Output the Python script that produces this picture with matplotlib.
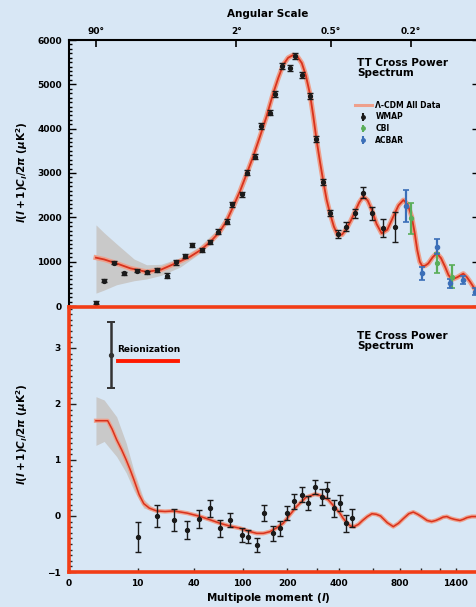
import numpy as np
import matplotlib
matplotlib.use("Agg")
import matplotlib.pyplot as plt
from matplotlib.lines import Line2D

# ---- data ----
# TT model curve (Lambda-CDM), multipole l and l(l+1)Cl/2pi in uK^2
tt_model_ell = [2, 3, 5, 8, 13, 19, 28, 37, 46, 56, 67, 76, 85, 96, 107, 119, 133,
                147, 163, 176, 189, 203, 218, 232, 246, 260, 275, 287, 300, 314, 328,
                342, 357, 375, 393, 415, 439, 462, 485, 510, 535, 562, 589, 622, 658,
                700, 747, 790, 832, 870, 907, 935, 960, 985, 1010, 1040, 1073, 1120,
                1166, 1215, 1263, 1305, 1350, 1420, 1500, 1550, 1596, 1650, 1700]
tt_model = [1090, 1050, 960, 850, 770, 820, 980, 1110, 1260, 1450, 1680, 1930, 2240,
            2600, 2980, 3370, 3830, 4270, 4800, 5150, 5440, 5600, 5660, 5620, 5480,
            5200, 4780, 4300, 3750, 3250, 2800, 2400, 2090, 1790, 1600, 1610, 1750,
            1930, 2130, 2340, 2470, 2380, 2170, 1850, 1640, 1720, 2015, 2270, 2390,
            2290, 2015, 1650, 1263, 1000, 900, 910, 960, 1100, 1190, 1080, 887, 700,
            600, 650, 730, 650, 548, 420, 300]

# cosmic variance band at low l
tt_band_ell = [2, 3, 5, 9, 13, 19, 30, 45, 65, 90, 110]
tt_band_hi = [1830, 1650, 1400, 1060, 930, 940, 1090, 1340, 1750, 2420, 3030]
tt_band_lo = [290, 360, 480, 570, 610, 690, 880, 1180, 1610, 2300, 2930]

# WMAP TT points
wmap_tt_ell = [2, 3, 4.6, 6.6, 9.8, 13, 17, 22, 27, 33, 39, 47, 56, 65, 76, 84, 99,
               108, 123, 136, 154, 167, 185, 209, 224, 246, 275, 297, 328, 357, 393,
               435, 485, 535, 589, 665, 760]
wmap_tt = [75, 571, 977, 738, 796, 760, 812, 684, 985, 1128, 1376, 1263, 1450, 1677,
           1902, 2294, 2520, 3007, 3368, 4061, 4361, 4783, 5414, 5362, 5640, 5211,
           4738, 3760, 2804, 2091, 1624, 1789, 2091, 2556, 2091, 1753, 1789]
wmap_tt_err = [30, 40, 40, 40, 40, 40, 40, 50, 50, 50, 50, 50, 50, 50, 60, 60, 60,
               60, 60, 60, 60, 60, 70, 70, 70, 70, 70, 70, 70, 70, 80, 100, 100, 120,
               140, 200, 340]

# CBI and ACBAR points
cbi_ell = [898, 1166, 1348]
cbi_tt = [1978, 963, 661]
cbi_err = [350, 225, 260]

acbar_ell = [855, 1004, 1174, 1326, 1490, 1668]
acbar_tt = [2256, 737, 1338, 512, 587, 323]
acbar_err = [360, 150, 170, 100, 100, 80]

# TE model curve
te_model_ell = [2, 3.5, 4.2, 5, 6, 7, 8, 9, 10.5, 12, 14, 17, 21, 26, 35, 46, 56, 67,
                80, 96, 110, 126, 140, 155, 172, 189, 208, 229, 260, 294, 320, 349,
                376, 404, 420, 440, 460, 480, 505, 530, 560, 590, 620, 650, 700, 747,
                790, 830, 880, 922, 965, 1010, 1060, 1109, 1155, 1200, 1240, 1285,
                1330, 1380, 1455, 1500, 1550, 1620, 1700]
te_model = [1.70, 1.70, 1.55, 1.36, 1.18, 1.0, 0.82, 0.64, 0.38, 0.22, 0.14, 0.09,
            0.08, 0.09, 0.05, -0.01, -0.07, -0.13, -0.18, -0.22, -0.27, -0.31, -0.31,
            -0.28, -0.21, -0.13, 0.02, 0.17, 0.33, 0.39, 0.36, 0.29, 0.17, 0.05,
            -0.04, -0.12, -0.18, -0.19, -0.15, -0.08, -0.01, 0.04, 0.03, 0.0, -0.12,
            -0.19, -0.13, -0.05, 0.04, 0.07, 0.03, -0.02, -0.08, -0.10, -0.08, -0.05,
            -0.02, -0.01, -0.04, -0.06, -0.08, -0.06, -0.03, -0.01, -0.01]

te_band_ell = [2, 3, 5, 7, 9, 12, 15]
te_band_hi = [2.13, 2.07, 1.77, 1.30, 0.80, 0.30, 0.16]
te_band_lo = [1.26, 1.33, 1.06, 0.77, 0.45, 0.14, 0.10]

# WMAP TE points
wmap_te_ell = [10, 17, 26, 35, 45, 56, 67, 80, 99, 110, 126, 142, 162, 180, 199,
               221, 246, 269, 294, 321, 345, 376, 404, 435, 466]
wmap_te = [-0.38, 0.0, -0.07, -0.25, -0.05, 0.14, -0.22, -0.07, -0.34, -0.37,
           -0.52, 0.05, -0.31, -0.22, 0.05, 0.26, 0.38, 0.23, 0.52, 0.34, 0.46,
           0.14, 0.23, -0.13, -0.04]
wmap_te_err = [0.27, 0.2, 0.2, 0.16, 0.16, 0.15, 0.15, 0.13, 0.12, 0.12, 0.12,
               0.14, 0.13, 0.13, 0.13, 0.13, 0.13, 0.13, 0.13, 0.14, 0.14, 0.15,
               0.15, 0.15, 0.16]

# reionization marker point
reion_ell = [4]
reion_te = [2.87]
reion_err = [0.59]

# axis ticks
x_ticks = [0, 10, 40, 100, 200, 400, 800, 1400]
x_minor = [300, 600, 1000, 1200]
top_ticks = [2, 90, 360, 900]
top_labels = ["90°", "2°", "0.5°", "0.2°"]

# ---- style ----
BG = "#d8e7f5"
RED = "#d9321c"
HALO = "#eea08c"
BOX_RED = "#f23d16"
GREEN = "#5aae5a"
BLUE = "#3b6fb8"
BAND = "#c9c9c9"

plt.rcParams["font.family"] = ["DejaVu Sans"]
plt.rcParams["font.weight"] = "bold"

P = 0.22


def fwd(l):
    return np.power(np.maximum(np.asarray(l, float) + 1.0, 1e-6), P)


def inv(u):
    return np.power(np.maximum(np.asarray(u, float), 1e-6), 1.0 / P) - 1.0


W, H = 477, 607
fig = plt.figure(figsize=(W / 100, H / 100), dpi=100, facecolor=BG)

left = 69 / W
width = (479.4 - 69) / W
ax1 = fig.add_axes([left, 1 - 306 / H, width, (306 - 40) / H])
ax2 = fig.add_axes([left, 1 - 572 / H, width, (572 - 307) / H])

for ax in (ax1, ax2):
    ax.set_facecolor("none")
    ax.set_xscale("function", functions=(fwd, inv))
    ax.set_xlim(0, 1736)

# ---- TT panel ----
ax1.fill_between(tt_band_ell, tt_band_lo, tt_band_hi, color=BAND, lw=0, zorder=1)
ax1.plot(tt_model_ell, tt_model, color=HALO, lw=3.6, zorder=2, solid_joinstyle="round")
ax1.plot(tt_model_ell, tt_model, color=RED, lw=1.3, zorder=3, solid_joinstyle="round")
ax1.errorbar(wmap_tt_ell, wmap_tt, yerr=wmap_tt_err, fmt="o", ms=2.8, color="#1a1a1a",
             elinewidth=1.0, capsize=2, capthick=1.0, zorder=4)
ax1.errorbar(cbi_ell, cbi_tt, yerr=cbi_err, fmt="o", ms=2.8, color=GREEN,
             elinewidth=1.6, capsize=2.5, capthick=1.2, zorder=4)
ax1.errorbar(acbar_ell, acbar_tt, yerr=acbar_err, fmt="o", ms=3, color=BLUE,
             elinewidth=1.6, capsize=2.5, capthick=1.2, zorder=4)

ax1.set_ylim(0, 6000)
ax1.set_yticks(range(0, 6001, 1000))
ax1.set_yticks(range(0, 6001, 100), minor=True)
ax1.tick_params(axis="y", which="both", direction="in", left=True, right=True,
                labelsize=6.5, pad=5, width=1)
ax1.tick_params(axis="y", which="major", length=5)
ax1.tick_params(axis="y", which="minor", length=2.5)
ax1.xaxis.set_ticks_position("top")
ax1.set_xticks(top_ticks)
ax1.set_xticklabels(top_labels)
ax1.set_xticks([], minor=True)
ax1.tick_params(axis="x", which="major", direction="in", length=5, width=1.2,
                labelsize=6.5, pad=3)
for s in ("top", "left", "right"):
    ax1.spines[s].set_linewidth(1.5)
ax1.spines["bottom"].set_visible(False)

ax1.text(357 / W, 1 - 58 / H, "TT Cross Power\nSpectrum", transform=fig.transFigure,
         fontsize=7.5, va="top", ha="left", linespacing=0.95)

handles = [
    Line2D([], [], color=HALO, lw=2.2),
    ax1.errorbar([], [], yerr=[], fmt="o", ms=2.5, color="#1a1a1a", capsize=2),
    ax1.errorbar([], [], yerr=[], fmt="o", ms=2.5, color=GREEN, capsize=2),
    ax1.errorbar([], [], yerr=[], fmt="o", ms=2.5, color=BLUE, capsize=2),
]
labels = ["Λ-CDM All Data", "WMAP", "CBI", "ACBAR"]
ax1.legend(handles, labels, loc="upper left", bbox_to_anchor=(351 / W, 1 - 97 / H),
           bbox_transform=fig.transFigure, frameon=False, fontsize=5.5,
           handlelength=2.2, handletextpad=0.5, labelspacing=0.35, borderpad=0)

# ---- TE panel ----
ax2.fill_between(te_band_ell, te_band_lo, te_band_hi, color=BAND, lw=0, zorder=1)
ax2.plot(te_model_ell, te_model, color=HALO, lw=3.0, zorder=2, solid_joinstyle="round")
ax2.plot(te_model_ell, te_model, color=RED, lw=1.1, zorder=3, solid_joinstyle="round")
ax2.errorbar(wmap_te_ell, wmap_te, yerr=wmap_te_err, fmt="o", ms=2.8, color="#1a1a1a",
             elinewidth=1.0, capsize=2, capthick=1.0, zorder=4)
ax2.errorbar(reion_ell, reion_te, yerr=reion_err, fmt="o", ms=2.8, color="#333333",
             elinewidth=1.8, capsize=3, capthick=1.4, zorder=4)

ax2.set_ylim(-1, 3.73)
ax2.set_yticks([-1, 0, 1, 2, 3])
ax2.set_yticks(np.arange(-1, 3.75, 0.1), minor=True)
ax2.set_xticks(x_ticks)
ax2.set_xticklabels([str(t) for t in x_ticks])
ax2.set_xticks(x_minor, minor=True)
ax2.tick_params(axis="both", which="both", direction="in", color="#222222",
                labelsize=6.5, width=1)
ax2.tick_params(axis="y", which="major", length=5, pad=6)
ax2.tick_params(axis="y", which="minor", length=2.5)
ax2.tick_params(axis="x", which="both", length=3, pad=5)
for s in ax2.spines.values():
    s.set_color(BOX_RED)
    s.set_linewidth(2.6)

ax2.text(357 / W, 1 - 331 / H, "TE Cross Power\nSpectrum", transform=fig.transFigure,
         fontsize=7.5, va="top", ha="left", linespacing=0.95)
fig.text(117 / W, 1 - 349 / H, "Reionization", fontsize=6.5, va="center", ha="left")
fig.add_artist(Line2D([118 / W, 178 / W], [1 - 361 / H, 1 - 361 / H],
                      color="#ff1a00", lw=2.8, transform=fig.transFigure))

# ---- shared labels ----
fig.text(268 / W, 1 - 14 / H, "Angular Scale", fontsize=7.5, ha="center", va="center")
fig.text(268 / W, 1 - 598 / H, "Multipole moment ($l$)", fontsize=7.5,
         ha="center", va="center")
ylab = r"$l(l+1)C_l/2\pi$ ($\mu$K$^2$)"
fig.text(22 / W, 1 - 172 / H, ylab, fontsize=7.5, rotation=90, ha="center", va="center")
fig.text(22 / W, 1 - 434 / H, ylab, fontsize=7.5, rotation=90, ha="center", va="center")

fig.savefig("out.png", dpi=100, facecolor=BG)
